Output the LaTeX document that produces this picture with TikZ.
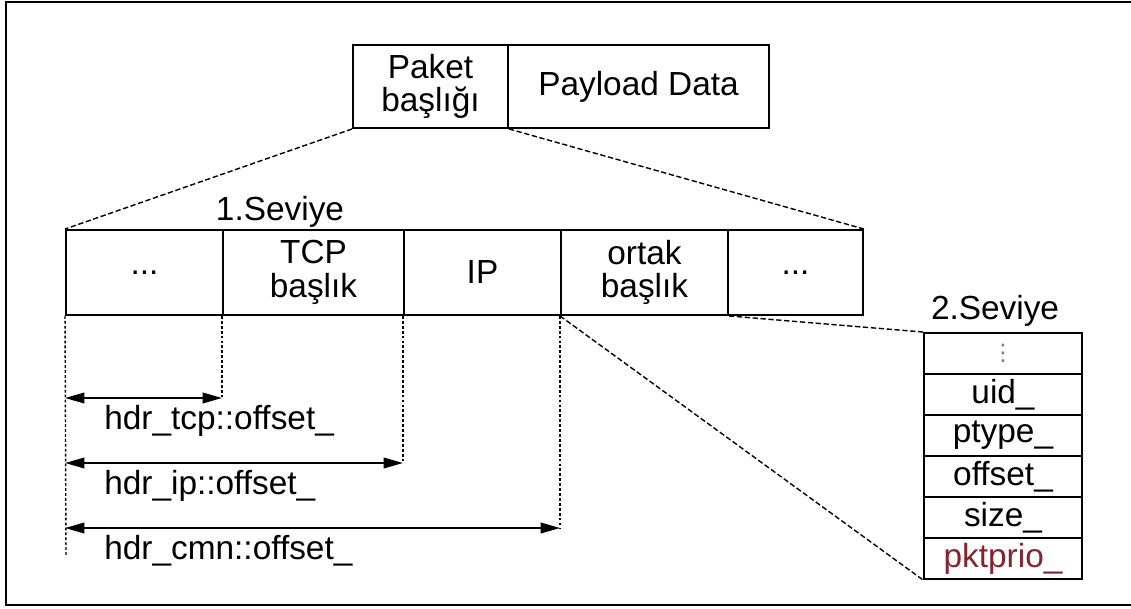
\documentclass[tikz,border=0pt]{standalone}
\usepackage{fontspec}
\setmainfont{Liberation Sans}
\newfontfamily\symfont{DejaVu Sans}
\usetikzlibrary{arrows.meta}
\definecolor{prioRed}{RGB}{135,35,45}
\newcommand{\px}{0.02cm}
\newcommand{\lbl}{\fontsize{19}{19}\selectfont}
% one box of a row: name, x left, x right, y top, y bottom, text
\newcommand{\drawCell}[6]{
	\node[cell, minimum width={((#3)-(#2))*\px}, minimum height={((#5)-(#4))*\px}] (#1) at ({((#2)+(#3))/2},{((#4)+(#5))/2}) {#6};
}

\begin{document}
\begin{tikzpicture}[x=0.02cm, y=-0.02cm,
	cell/.style={draw, rectangle, line width=1.1pt, inner sep=0pt, align=center, font=\lbl},
	zoomline/.style={line width=0.8pt, dash pattern=on 3pt off 1.5pt},
	guide/.style={line width=0.8pt, dash pattern=on 1.6pt off 1.2pt},
	dim/.style={line width=1.1pt, {Triangle[length=11pt,width=6pt]}-{Triangle[length=11pt,width=6pt]}},
	txt/.style={font=\lbl, inner sep=0pt}]
\useasboundingbox (0,0) rectangle (1131,608);

%Frame
\draw[line width=1.6pt] (1140,2) -- (6,2) -- (6,605) -- (1140,605);

%Packet
\drawCell{pkt}{353}{508}{45}{128}{Paket\\başlığı}
\drawCell{pay}{508}{769}{45}{128}{Payload Data}

%1. level
\node[txt] (lvlone) at (280,212) {1.Seviye};
\drawCell{dotsa}{66}{223}{230}{315}{...}
\drawCell{tcp}{223}{404}{230}{315}{TCP\\başlık}
\drawCell{ip}{404}{561}{230}{315}{IP}
\drawCell{cmn}{561}{728}{230}{315}{ortak\\başlık}
\drawCell{dotsb}{728}{863}{230}{315}{...}

%2. level
\node[txt] (lvltwo) at (995,311) {2.Seviye};
	\foreach \t [count=\i from 0] in {{\color{gray}\symfont\fontsize{13}{13}\selectfont ⋮}, uid\_, ptype\_, offset\_, size\_, {\color{prioRed}pktprio\_}}
	{
		\drawCell{s\i}{924}{1082}{333+41*\i}{374+41*\i}{\t}
	}

% Zoom lines
\draw[zoomline] (pkt.south west) -- (dotsa.north west);
\draw[zoomline] (pkt.south east) -- (dotsb.north east);
\draw[zoomline] (cmn.south east) -- (s0.north west);
\draw[zoomline] (cmn.south west) -- (s5.south west);

% Offsets
\coordinate (bottom) at (66,556);
\draw[guide] (dotsa.south west) -- (bottom);
	\foreach \c/\y/\t in {tcp/398/hdr\_tcp::offset\_, ip/463/hdr\_ip::offset\_, cmn/528/hdr\_cmn::offset\_}
	{
		\coordinate (e\c) at (\c.south west |- 0,\y);
		\draw[guide] (\c.south west) -- (e\c);
		\draw[dim] (dotsa.south west |- e\c) -- (e\c);
		\node[txt, anchor=west] (lbl\c) at (104,\y+23) {\t};
	}
\end{tikzpicture}
\end{document}
